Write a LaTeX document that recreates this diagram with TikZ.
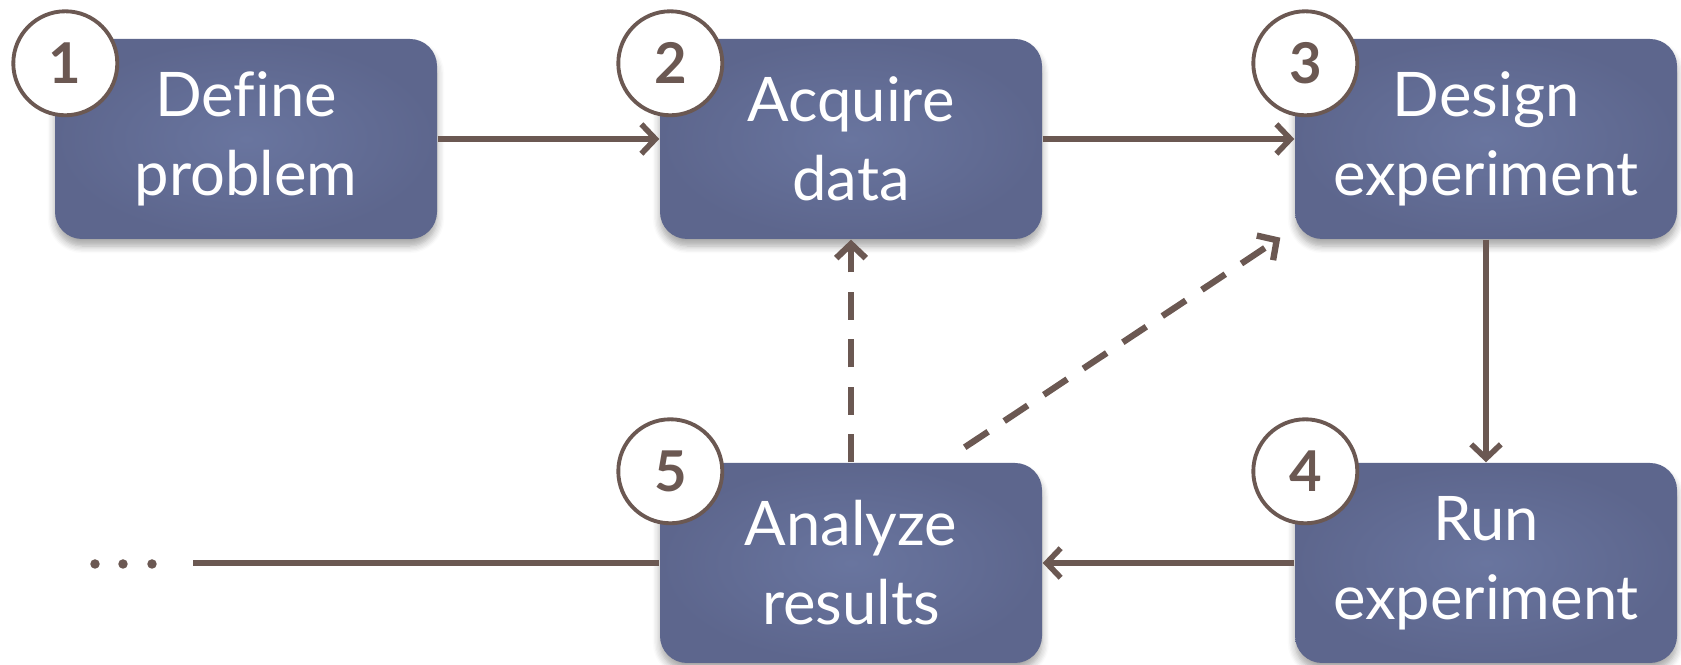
\documentclass[tikz,border=0pt]{standalone}
\usepackage{fontspec}
\setmainfont{Lato}[Ligatures=NoCommon]
\usepackage{tikz}
\usetikzlibrary{arrows.meta,shapes,shadows.blur}
\definecolor{linebrown}{RGB}{107,88,82}
\definecolor{boxlight}{RGB}{105,117,159}
\definecolor{boxdark}{RGB}{93,102,141}

\begin{document}
\begin{tikzpicture}[>={Straight Barb[length=4pt,width=8.4pt]},auto]
  \tikzstyle{stage}=[rectangle,rounded corners=7.7pt,minimum width=3.82cm,
                     minimum height=2cm,inner color=boxlight,outer color=boxdark,
                     text=white,align=center,font=\fontsize{17.5}{22.5}\selectfont,
                     blur shadow={shadow xshift=0pt,shadow yshift=-2pt,
                     shadow blur steps=6,shadow opacity=35}]
  \tikzstyle{number}=[circle,draw=linebrown,line width=1.1pt,fill=white,
                      minimum size=1.04cm,inner sep=0pt,text=linebrown,
                      font=\fontsize{16}{16}\selectfont\bfseries]
  \tikzstyle{flow}=[draw=linebrown,line width=1.6pt]
  \tikzstyle{back}=[flow,->,line width=1.8pt,dash pattern=on 8pt off 5.5pt]
  \tikzstyle{dot}=[circle,fill=linebrown,inner sep=0pt,minimum size=2.7pt]
  \useasboundingbox (0,0) rectangle (16.81,6.65);
  % the five stages
  \node [stage] (s1) at (2.46,5.26)  {Define\\problem};
  \node [stage] (s2) at (8.51,5.26)  {Acquire\\data};
  \node [stage] (s3) at (14.86,5.26) {Design\\experiment};
  \node [stage] (s4) at (14.86,1.02) {Run\\experiment};
  \node [stage] (s5) at (8.51,1.02)  {Analyze\\results};
  % step numbers
  \node [number] (n1) at ([shift={(0.11,-0.25)}]s1.north west) {1};
  \node [number] (n2) at ([shift={(0.11,-0.25)}]s2.north west) {2};
  \node [number] (n3) at ([shift={(0.11,-0.25)}]s3.north west) {3};
  \node [number] (n4) at ([shift={(0.11,-0.09)}]s4.north west) {4};
  \node [number] (n5) at ([shift={(0.11,-0.09)}]s5.north west) {5};
  % dots on the left
  \node [dot] (d1) at (0.95,1.01) {};
  \node [dot] (d2) at (1.23,1.01) {};
  \node [dot] (d3) at (1.52,1.01) {};
  \coordinate (tail) at (1.93,1.02);
  % connectors
  \draw [flow,->] (s1) -- (s2);
  \draw [flow,->] (s2) -- (s3);
  \draw [flow,->] (s3) -- (s4);
  \draw [flow,->] (s4) -- (s5);
  \draw [flow] (s5) -- (tail);
  \draw [back] (s5) -- (s2);
  \draw [back] ([shift={(-0.78,0.15)}]s5.north east)
    -- ([shift={(-0.14,0.02)}]s3.south west);
\end{tikzpicture}
\end{document}
